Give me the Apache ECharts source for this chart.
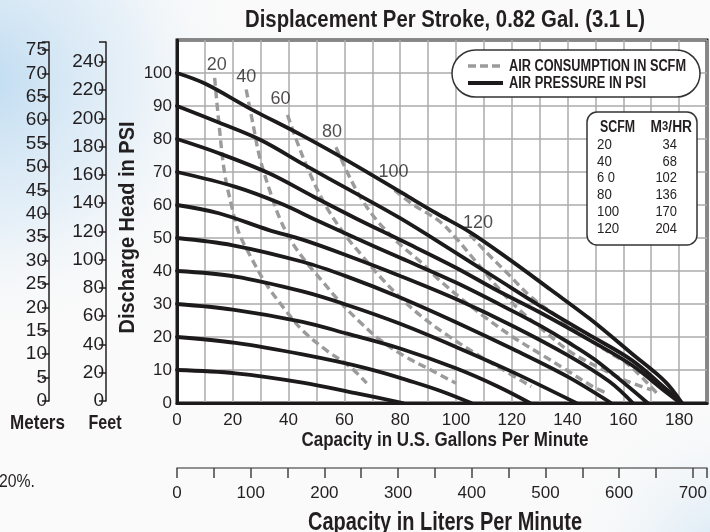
<!DOCTYPE html>
<html><head><meta charset="utf-8">
<script src="https://cdn.jsdelivr.net/npm/echarts@6/dist/echarts.min.js"></script>
<style>html,body{margin:0;padding:0;background:#fafafa}#c{width:710px;height:532px}</style>
</head><body><div id="c"></div>
<script>
// ---------------- data ----------------
const gpmTickLabels = [0, 20, 40, 60, 80, 100, 120, 140, 160, 180];
const psiTickLabels = [0, 10, 20, 30, 40, 50, 60, 70, 80, 90, 100];
const literTickLabels = [0, 100, 200, 300, 400, 500, 600, 700];
const meterTickLabels = [0, 5, 10, 15, 20, 25, 30, 35, 40, 45, 50, 55, 60, 65, 70, 75];
const feetTickLabels = [0, 20, 40, 60, 80, 100, 120, 140, 160, 180, 200, 220, 240];

// air pressure curves (gpm, psi)
const psi100 = [[0,100],[10,96.8],[26,89.3],[45,81],[62,73],[81,63.5],[93,57.5],[105,51.8],[120,43],[134,34.3],[148,25.5],[163,15],[175,6.5],[181,0]];
const psi90  = [[0,90],[15,85],[30,79.7],[46,72],[62,64.5],[80,56],[100,45.5],[115,37.5],[130,29.5],[147,21],[163,13],[175,4.5],[181,0]];
const psi80  = [[0,80],[15,75.7],[33,69.6],[49,62.5],[64,56],[81,49],[100,41],[115,34],[130,27.5],[147,19.5],[163,11.5],[175,3.5],[180.5,0]];
const psi70  = [[0,70],[21,65.5],[37,60.5],[51,55],[64,50],[80,44],[100,36.5],[120,28],[130,23.5],[140,18.5],[150,13],[168.7,0]];
const psi60  = [[0,60],[15,57.5],[33,52.4],[45,49.5],[60,45],[80,38.5],[100,31.5],[120,23.5],[140,14.5],[155,6.5],[163.4,0]];
const psi50  = [[0,50],[20,47.8],[45,42.8],[61,38.3],[80,32],[100,24.5],[120,16.5],[140,8],[155.6,0]];
const psi40  = [[0,40],[21,38.3],[45,33.8],[61,29.7],[80,24],[100,17],[120,9.5],[143.1,0]];
const psi30  = [[0,30],[20,28.3],[45,24.6],[61,21],[80,16.5],[100,10.5],[115,5],[126.5,0]];
const psi20  = [[0,20],[21,18.2],[45,14.7],[68,10.5],[85,6.3],[95,3.5],[105.5,0]];
const psi10  = [[0,10],[21,9],[45,6.2],[64,3],[81,0]];

// air consumption curves (gpm, psi)
const scfm20  = [[13.5,98.5],[15,85],[17,70],[19.5,60],[22,52],[26,45],[32,36],[39,28],[45,22],[53.5,16],[62,11],[68,6]];
const scfm40  = [[24.8,95],[27.2,84.7],[29.6,74.6],[33.2,64.5],[36.8,56],[41,49],[46,43],[52,37],[58,31],[65,25],[73,19],[82,14],[91,10],[100,6]];
const scfm60  = [[39.6,87.3],[42.8,79.7],[47.6,69.6],[53.5,59.5],[60.7,50.4],[66,45],[72,39],[80,32],[88,26],[97,20.5],[107,15],[117,10],[127,5]];
const scfm80  = [[57,77.5],[61,70],[66,62],[72,55],[80,48],[87,43],[94,37.3],[102.5,31.2],[110.4,26],[120.4,20],[130,15],[139.6,10],[149,5],[154,3]];
const scfm100 = [[78,64.5],[84,60.5],[94.2,55],[100,50],[107,43],[115,35],[123,28],[130,23],[141,15.5],[153,10],[162,6.4],[170,4]];
const scfm120 = [[105,51],[110.4,46.1],[118.8,39],[127.1,32],[136.7,26],[146.1,20],[155.6,15],[162.7,11],[172,3]];

const pressureCurves = [psi100, psi90, psi80, psi70, psi60, psi50, psi40, psi30, psi20, psi10];
const scfmLevels = [20, 40, 60, 80, 100, 120];
const scfmCurves = [scfm20, scfm40, scfm60, scfm80, scfm100, scfm120];

const tableScfm = ['20', '40', '6 0', '80', '100', '120'];
const tableM3hr = ['34', '68', '102', '136', '170', '204'];

// ---------------- styles ----------------
const FONT = "'Liberation Sans', Arial, sans-serif";
const INK = '#231f20';
const scfmLabelOffsets = [[2,-13],[0,-12],[-7,-16],[-4,-15],[-1,-18],[8,-12]];
const GPM_MAX = 190;
const L_PER_GAL = 3.785;

const mctx = document.createElement('canvas').getContext('2d');
function fitScale(text, font, width) { mctx.font = font; return width / mctx.measureText(text).width; }
function fittedText(text, font, width, x, y, align, extra) {
  const s = fitScale(text, font, width);
  return Object.assign({type: 'text', x: x, y: y, scaleX: s, silent: true, z: 20,
    style: {text: text, fill: INK, font: font, align: align || 'center', verticalAlign: 'middle'}}, extra || {});
}

const chart = echarts.init(document.getElementById('c'), null, {renderer: 'canvas'});

const series = [];
pressureCurves.forEach(d => {
  series.push({
    type: 'line', name: 'AIR PRESSURE IN PSI', xAxisIndex: 0, yAxisIndex: 0,
    data: d, symbol: 'none', smooth: 0.35, z: 4,
    lineStyle: {color: '#1c1a1b', width: 3.8, cap: 'round'}
  });
});
scfmCurves.forEach(d => {
  series.push({
    type: 'line', name: 'AIR CONSUMPTION IN SCFM', xAxisIndex: 0, yAxisIndex: 0,
    data: d, symbol: 'none', smooth: 0.35, z: 3,
    lineStyle: {color: '#9b9b9b', width: 3.4, type: [8, 4.5]}
  });
});
series.push({
  type: 'scatter', name: 'labels', xAxisIndex: 0, yAxisIndex: 0, z: 5,
  symbol: 'circle', symbolSize: 1, itemStyle: {color: 'rgba(0,0,0,0)'},
  data: scfmCurves.map((d, i) => ({
    value: d[0],
    label: {show: true, position: 'inside', offset: scfmLabelOffsets[i], formatter: String(scfmLevels[i]),
      color: INK, fontSize: 18, fontFamily: FONT}
  })),
  silent: true
});

const axisFont = {color: INK, fontSize: 17, fontFamily: FONT};
const sideFont = {color: INK, fontSize: 19, fontFamily: FONT};

const tableTexts = [];
tableScfm.forEach((t, i) => tableTexts.push(fittedText(t, '14px ' + FONT, t === '6 0' ? 18 : t.length * 7.4, 597, 145 + i * 16.8, 'left')));
tableM3hr.forEach((t, i) => tableTexts.push(fittedText(t, '14px ' + FONT, t.length * 7.2, 677, 145 + i * 16.8, 'right')));

const option = {
  animation: false,
  backgroundColor: '#fafafa',
  grid: [
    {left: 177, right: 2, top: 40, bottom: 129, show: true, backgroundColor: '#fff', borderColor: '#1c1a1b', borderWidth: 3},
    {left: 177, right: 2, top: 467, height: 1},
    {left: 49, width: 1, top: 42, bottom: 131},
    {left: 106, width: 1, top: 42, bottom: 131}
  ],
  xAxis: [
    {type: 'value', gridIndex: 0, min: 0, max: GPM_MAX, interval: 10,
     axisLine: {show: true, lineStyle: {color: '#1c1a1b', width: 3}},
     axisTick: {show: false},
     axisLabel: Object.assign({margin: 9, formatter: v => gpmTickLabels.includes(v) ? String(v) : ''}, axisFont),
     splitLine: {show: true, lineStyle: {color: '#ababab', width: 1.5}}},
    {type: 'value', gridIndex: 1, min: 0, max: GPM_MAX * L_PER_GAL, interval: 50, position: 'bottom',
     axisLine: {show: true, lineStyle: {color: '#6e6e6e', width: 1.5}},
     axisTick: {show: true, length: 10, lineStyle: {color: '#444', width: 1.5}},
     axisLabel: Object.assign({margin: 17, formatter: v => literTickLabels.includes(v) ? String(v) : ''}, axisFont),
     splitLine: {show: false}},
    {type: 'value', gridIndex: 2, show: false},
    {type: 'value', gridIndex: 3, show: false}
  ],
  yAxis: [
    {type: 'value', gridIndex: 0, min: 0, max: 110, interval: 10,
     axisLine: {show: true, lineStyle: {color: '#1c1a1b', width: 3}},
     axisTick: {show: false},
     axisLabel: Object.assign({margin: 5, formatter: v => psiTickLabels.includes(v) ? String(v) : ''}, axisFont),
     splitLine: {show: true, lineStyle: {color: '#ababab', width: 1.5}}},
    {type: 'value', gridIndex: 1, show: false},
    {type: 'value', gridIndex: 2, min: 0, max: 76.7, interval: 5,
     axisLine: {show: true, lineStyle: {color: INK, width: 1.5}},
     axisTick: {show: true, length: 7, lineStyle: {color: INK, width: 1.5}, customValues: meterTickLabels.concat([76.7])},
     axisLabel: Object.assign({margin: 2, customValues: meterTickLabels}, sideFont),
     splitLine: {show: false}},
    {type: 'value', gridIndex: 3, min: 0, max: 254, interval: 20,
     axisLine: {show: true, lineStyle: {color: INK, width: 1.5}},
     axisTick: {show: true, length: 7, lineStyle: {color: INK, width: 1.5}, customValues: feetTickLabels.concat([254])},
     axisLabel: Object.assign({margin: 2, customValues: feetTickLabels}, sideFont),
     splitLine: {show: false}}
  ],
  graphic: [
    {type: 'rect', z: -100, silent: true, shape: {x: 0, y: 0, width: 710, height: 532},
     style: {fill: new echarts.graphic.RadialGradient(-0.02, 0.15, 0.5, [
        {offset: 0, color: 'rgba(192,220,241,1)'}, {offset: 0.55, color: 'rgba(222,236,247,0.7)'}, {offset: 1, color: 'rgba(250,250,250,0)'}])}},
    {type: 'rect', z: -100, silent: true, shape: {x: 0, y: 0, width: 710, height: 532},
     style: {fill: new echarts.graphic.RadialGradient(1.02, 1.05, 0.32, [
        {offset: 0, color: 'rgba(212,231,245,1)'}, {offset: 1, color: 'rgba(250,250,250,0)'}])}},
    fittedText('Displacement Per Stroke, 0.82 Gal. (3.1 L)', 'bold 23px ' + FONT, 400, 445, 21),
    fittedText('Capacity in U.S. Gallons Per Minute', 'bold 21px ' + FONT, 287, 445, 440),
    fittedText('Capacity in Liters Per Minute', 'bold 25px ' + FONT, 274, 445, 523),
    fittedText('Discharge Head in PSI', 'bold 22px ' + FONT, 212, 128, 227.5, 'center', {rotation: Math.PI / 2}),
    fittedText('Meters', 'bold 21px ' + FONT, 55, 37.5, 423),
    fittedText('Feet', 'bold 21px ' + FONT, 33, 105, 423),
    fittedText('20%.', '19px ' + FONT, 36, 35, 482, 'right'),
    // legend box
    {type: 'rect', z: 15, silent: true, shape: {x: 452, y: 50, width: 248, height: 47, r: 23.5},
     style: {fill: '#fff', stroke: '#333', lineWidth: 1.5}},
    {type: 'line', z: 16, silent: true, shape: {x1: 468, y1: 66, x2: 503, y2: 66},
     style: {stroke: '#9b9b9b', lineWidth: 3.4, lineDash: [8, 4]}},
    {type: 'line', z: 16, silent: true, shape: {x1: 468, y1: 83, x2: 503, y2: 83},
     style: {stroke: '#1c1a1b', lineWidth: 3.8}},
    fittedText('AIR CONSUMPTION IN SCFM', 'bold 16px ' + FONT, 177, 509, 66.5, 'left'),
    fittedText('AIR PRESSURE IN PSI', 'bold 16px ' + FONT, 137, 509, 83.5, 'left'),
    // table box
    {type: 'rect', z: 15, silent: true, shape: {x: 587, y: 112, width: 110, height: 133, r: 10},
     style: {fill: '#fff', stroke: '#333', lineWidth: 1.5}},
    fittedText('SCFM', 'bold 16px ' + FONT, 35, 600, 128, 'left'),
    {type: 'text', z: 20, x: 692, y: 128, silent: true, scaleX: 0.86,
     style: {text: '{b|M}{s|3}{b|/HR}', align: 'right', verticalAlign: 'middle',
       rich: {b: {fill: INK, font: 'bold 16px ' + FONT, verticalAlign: 'bottom'},
              s: {fill: INK, font: 'bold 13px ' + FONT, verticalAlign: 'top'}}}},
    ...tableTexts
  ],
  series: series
};
chart.setOption(option);
</script></body></html>
